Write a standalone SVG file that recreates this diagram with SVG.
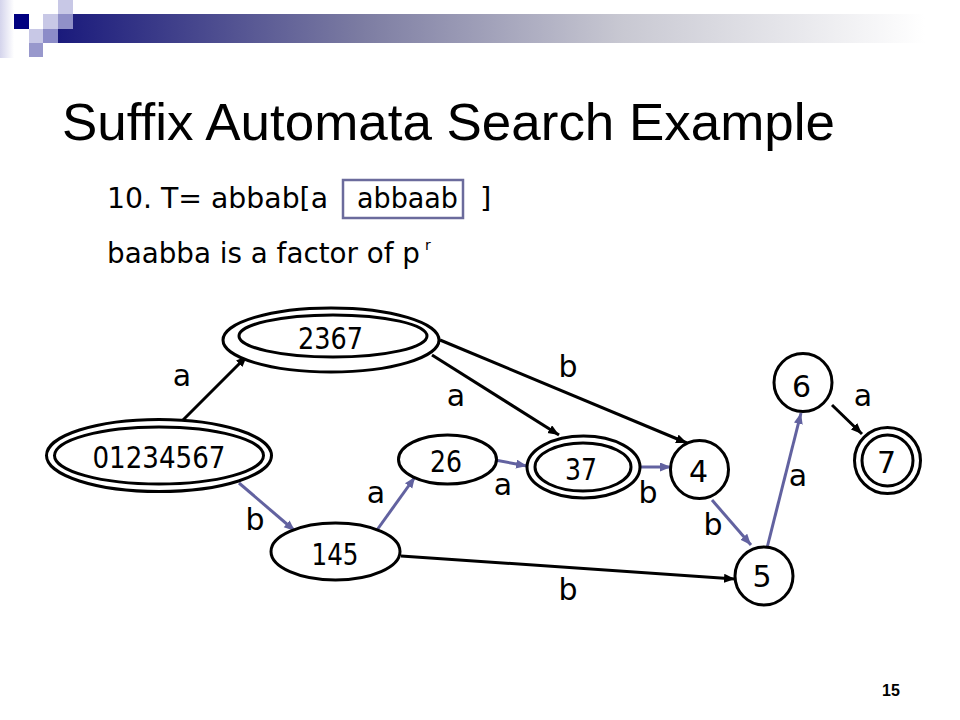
<svg xmlns="http://www.w3.org/2000/svg" width="960" height="720" viewBox="0 0 960 720">
<defs>
<linearGradient id="bar" x1="0" y1="0" x2="1" y2="0">
<stop offset="0" stop-color="#1a1a7c"/>
<stop offset="0.35" stop-color="#7c7ca2"/>
<stop offset="0.65" stop-color="#c8c8d2"/>
<stop offset="1" stop-color="#ffffff"/>
</linearGradient>
<linearGradient id="strip" x1="0" y1="0" x2="1" y2="0">
<stop offset="0" stop-color="#d4d4ec"/>
<stop offset="1" stop-color="#ffffff"/>
</linearGradient>
<marker id="ab" markerUnits="userSpaceOnUse" markerWidth="12" markerHeight="10" refX="11" refY="4.5" orient="auto">
<path d="M0,0 L11,4.5 L0,9 z" fill="#000"/>
</marker>
<marker id="au" markerUnits="userSpaceOnUse" markerWidth="12" markerHeight="10" refX="11" refY="4.5" orient="auto">
<path d="M0,0 L11,4.5 L0,9 z" fill="#6262a0"/>
</marker>
</defs>
<style>
.n{fill:#fff;stroke:#000;stroke-width:3}
.t{font-family:"DejaVu Sans","Liberation Sans",sans-serif;font-size:30px;fill:#000;text-anchor:middle}
.l{font-family:"DejaVu Sans","Liberation Sans",sans-serif;font-size:29px;fill:#000}
.sup{font-size:14px}
.title{font-family:"Liberation Sans",Arial,sans-serif;font-size:52px;fill:#000;font-variant-ligatures:none;font-feature-settings:"liga" 0,"clig" 0}
.eb{stroke:#000;stroke-width:3;fill:none;marker-end:url(#ab)}
.eu{stroke:#6262a0;stroke-width:3;fill:none;marker-end:url(#au)}
</style>
<rect width="960" height="720" fill="#fff"/>
<g id="header">
<rect x="0" y="0" width="14" height="58" fill="url(#strip)"/>
<rect x="58" y="14" width="867" height="29" fill="url(#bar)"/>
<rect x="14" y="14" width="15" height="15" fill="#000080"/>
<rect x="43" y="14" width="15" height="15" fill="#c8c8e6"/>
<rect x="58" y="0" width="15" height="14" fill="#c8c8e6"/>
<rect x="58" y="14" width="15" height="15" fill="#9090c8"/>
<rect x="29" y="29" width="14" height="14" fill="#c8c8e6"/>
<rect x="43" y="29" width="15" height="14" fill="#8c8cc8"/>
<rect x="29" y="43" width="14" height="14" fill="#9898cc"/>
</g>
<text class="title" x="62" y="140" textLength="773" lengthAdjust="spacingAndGlyphs">Suffix Automata Search Example</text>
<g id="text-lines">
<text class="l" x="107" y="208" textLength="221" lengthAdjust="spacingAndGlyphs">10. T= abbab[a</text>
<rect x="343" y="180" width="120" height="38" fill="none" stroke="#6b6b9c" stroke-width="2.5"/>
<text class="l" x="357" y="208" textLength="101" lengthAdjust="spacingAndGlyphs">abbaab</text>
<text class="l" x="480" y="208">]</text>
<text class="l" x="107" y="263"><tspan textLength="313" lengthAdjust="spacingAndGlyphs">baabba is a factor of p</tspan><tspan class="sup" x="425" y="250">r</tspan></text>
</g>
<g id="connectors">
<line class="eb" x1="183" y1="420" x2="247" y2="356"/>
<line class="eb" x1="432" y1="355" x2="559" y2="435"/>
<line class="eb" x1="440" y1="340" x2="687" y2="443"/>
<line class="eb" x1="401" y1="556" x2="735" y2="579"/>
<line class="eb" x1="832" y1="405" x2="862" y2="434"/>
<line class="eu" x1="239" y1="483" x2="295" y2="531"/>
<line class="eu" x1="377" y1="530" x2="415" y2="477"/>
<line class="eu" x1="495" y1="460" x2="527" y2="466"/>
<line class="eu" x1="640" y1="467" x2="671" y2="467"/>
<line class="eu" x1="712" y1="500" x2="751" y2="545"/>
<line class="eu" x1="767" y1="548" x2="801" y2="413"/>
<g id="edge-labels">
<text class="t" x="182" y="386">a</text>
<text class="t" x="255" y="530">b</text>
<text class="t" x="376" y="503">a</text>
<text class="t" x="456" y="406">a</text>
<text class="t" x="568" y="377">b</text>
<text class="t" x="503" y="495">a</text>
<text class="t" x="648" y="503">b</text>
<text class="t" x="713" y="535">b</text>
<text class="t" x="568" y="600">b</text>
<text class="t" x="798" y="486">a</text>
<text class="t" x="863" y="406">a</text>
</g>
</g>
<g id="n01234567">
<ellipse class="n" cx="159" cy="455.5" rx="112.5" ry="36"/>
<ellipse class="n" cx="159" cy="455.5" rx="104.5" ry="28.5"/>
<text class="t" x="159" y="468" textLength="133" lengthAdjust="spacingAndGlyphs">01234567</text>
</g>
<g id="n2367">
<ellipse class="n" cx="331" cy="340" rx="108" ry="32"/>
<ellipse class="n" cx="333" cy="336" rx="94" ry="21"/>
<text class="t" x="330.5" y="349" textLength="65" lengthAdjust="spacingAndGlyphs">2367</text>
</g>
<g id="n26">
<ellipse class="n" cx="447.5" cy="459.5" rx="49" ry="24.5"/>
<text class="t" x="446" y="471.5" textLength="32" lengthAdjust="spacingAndGlyphs">26</text>
</g>
<g id="n145">
<ellipse class="n" cx="335.5" cy="551.5" rx="64.5" ry="28.5"/>
<text class="t" x="335" y="565" textLength="47" lengthAdjust="spacingAndGlyphs">145</text>
</g>
<g id="n37">
<ellipse class="n" cx="583.5" cy="467" rx="56.5" ry="31"/>
<ellipse class="n" cx="583" cy="467" rx="48" ry="24"/>
<text class="t" x="581" y="480" textLength="32" lengthAdjust="spacingAndGlyphs">37</text>
</g>
<g id="n4">
<circle class="n" cx="699.5" cy="469.5" r="29"/>
<text class="t" x="698.5" y="481.5">4</text>
</g>
<g id="n5">
<circle class="n" cx="764" cy="576" r="29"/>
<text class="t" x="762" y="586.5">5</text>
</g>
<g id="n6">
<circle class="n" cx="803" cy="382.5" r="29"/>
<text class="t" x="801.5" y="396.5">6</text>
</g>
<g id="n7">
<circle class="n" cx="887.5" cy="460.5" r="33"/>
<circle class="n" cx="887.5" cy="460.5" r="25.5"/>
<text class="t" x="886.5" y="473">7</text>
</g>
<text x="891" y="696" font-family="Liberation Sans, Arial, sans-serif" font-size="16" font-weight="bold" text-anchor="middle">15</text>
</svg>
